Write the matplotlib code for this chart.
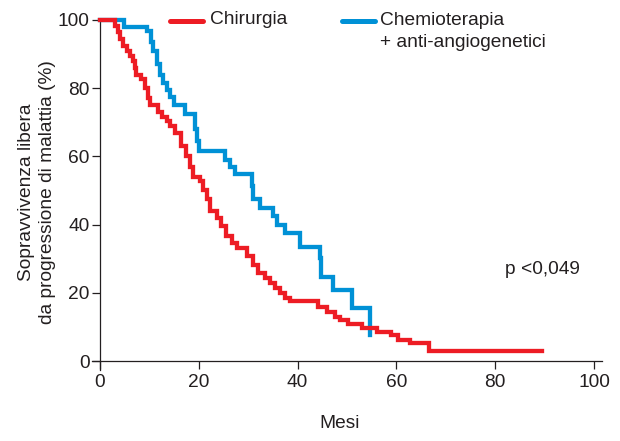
import matplotlib
matplotlib.use("Agg")
import matplotlib.pyplot as plt
from matplotlib.lines import Line2D

# Kaplan-Meier curves (months, % progression-free)
mesi_chirurgia = [0, 3.0, 3.7, 4.0, 4.7, 5.4, 6.1, 6.7, 7.1, 7.4, 8.4, 9.1, 9.7, 10.2,
                  11.7, 12.5, 13.5, 14.2, 15.2, 16.5, 17.5, 18.2, 18.9, 20.2, 20.9,
                  21.6, 22.3, 23.6, 24.6, 25.6, 26.7, 27.7, 29.7, 31.0, 32.0, 33.4,
                  34.4, 35.4, 36.4, 37.4, 38.5, 44.2, 45.9, 47.6, 48.6, 50.3, 53.0,
                  56.0, 59.0, 60.3, 62.8, 66.5, 89.4]
surv_chirurgia = [100, 98.3, 96.4, 94.4, 92.4, 91, 89.5, 88, 86, 84, 82.6, 80, 77, 75,
                  73, 71.5, 70.4, 69, 67, 63, 60, 57, 54, 52.7, 50.3,
                  47.4, 44, 42, 39.5, 36.6, 34.6, 33.2, 30.7, 28.2, 25.8, 24.3,
                  22.8, 21.4, 19.9, 18.4, 17.5, 16, 14.5, 13, 12, 11, 9.6,
                  8.6, 7.6, 6.2, 5.2, 3.0, 3.0]

mesi_chemio = [0, 4.8, 9.5, 10.4, 10.8, 11.5, 12.1, 12.8, 13.5, 14.2, 14.9, 17.2, 19.3,
               19.6, 20.0, 25.3, 26.3, 27.3, 30.7, 31.0, 32.4, 35.1, 35.8, 37.4, 40.5,
               44.5, 44.8, 47.2, 51.0, 54.7]
surv_chemio = [100, 98, 96.9, 93.5, 91, 87, 84, 81.5, 79.5, 77.5, 75, 72.4, 68,
               64.5, 61.6, 59, 57, 55, 51.3, 47.4, 45, 42.4, 40, 37.6, 33.6,
               30.2, 24.8, 20.9, 15.5, 7.6]

x_ticks = [0, 20, 40, 60, 80, 100]
y_ticks = [0, 20, 40, 60, 80, 100]

RED = "#ed1c24"
BLUE = "#0091d6"
INK = "#231f20"
FS = 13.8

plt.rcParams["font.family"] = ["Liberation Sans", "DejaVu Sans"]

fig = plt.figure(figsize=(6.2, 4.41), dpi=100)
ax = fig.add_axes([92 / 620, 1 - 370 / 441, 510 / 620, 350 / 441])

# blue first so the red one sits on top where they overlap at 100%
ax.plot(mesi_chemio, surv_chemio, drawstyle="steps-post", color=BLUE,
        linewidth=3.1, clip_on=False, solid_joinstyle="miter", zorder=3)
ax.plot(mesi_chirurgia, surv_chirurgia, drawstyle="steps-post", color=RED,
        linewidth=3.1, clip_on=False, solid_joinstyle="miter", zorder=3)

ax.set_xlim(-1.6, 101.6)
ax.set_ylim(-2.6, 100)

for side in ["top", "right"]:
    ax.spines[side].set_visible(False)
ax.spines["left"].set_position(("data", 0))
ax.spines["bottom"].set_position(("data", 0))
for side in ["left", "bottom"]:
    ax.spines[side].set_color(INK)
    ax.spines[side].set_linewidth(0.9)

ax.set_xticks(x_ticks)
ax.set_yticks(y_ticks)
ax.tick_params(direction="out", length=6, width=0.9, color=INK,
               labelsize=FS, labelcolor=INK)
ax.tick_params(axis="y", pad=1.5)
ax.tick_params(axis="x", pad=3)

ax.text(82, 26.8, "p <0,049", fontsize=FS, color=INK, va="center", ha="left")

# axis titles
fig.text(37 / 620, 1 - 192 / 441, "Sopravvivenza libera\nda progressione di malattia (%)",
         rotation=90, ha="center", va="center", fontsize=FS, color=INK,
         multialignment="center", linespacing=1.3)
fig.text(340 / 620, 1 - 423 / 441, "Mesi", ha="center", va="center",
         fontsize=FS, color=INK)

# legend drawn by hand
fig.add_artist(Line2D([170 / 620, 203 / 620], [1 - 21 / 441] * 2, color=RED,
                      linewidth=3.6, solid_capstyle="round"))
fig.text(210 / 620, 1 - 20 / 441, "Chirurgia", ha="left", va="center",
         fontsize=FS, color=INK)
fig.add_artist(Line2D([342 / 620, 375 / 620], [1 - 21 / 441] * 2, color=BLUE,
                      linewidth=3.6, solid_capstyle="round"))
fig.text(380 / 620, 1 - 31.5 / 441, "Chemioterapia\n+ anti-angiogenetici", ha="left",
         va="center", fontsize=FS, color=INK, linespacing=1.4)

fig.savefig("out.png", dpi=100)
